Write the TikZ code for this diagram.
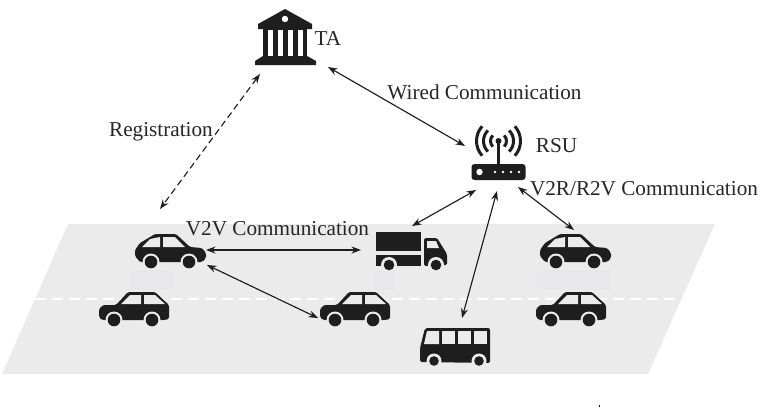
\documentclass[tikz,border=0pt]{standalone}
\usepackage{fontspec}
\setmainfont{Liberation Serif}
\usetikzlibrary{arrows.meta}
\definecolor{ink}{HTML}{1E1E1E}
\definecolor{roadgrey}{HTML}{EBEBEB}
\definecolor{patchgrey}{HTML}{E8E8EA}
\tikzset{
  label text/.style={font=\fontsize{21.2}{23}\selectfont, text=black!85, inner sep=0pt, anchor=center},
  icon box/.style={inner sep=0pt, outer sep=0pt, draw=none},
  solid ink/.style={fill=ink, draw=none},
  paper/.style={fill=roadgrey, draw=none},
  link/.style={draw=ink, line width=1.15pt, {Stealth[length=9.5pt,width=7pt]}-{Stealth[length=9.5pt,width=7pt]}},
  dashlink/.style={link, dash pattern=on 6.5pt off 4pt},
  carhoodright/.pic={
    \path[solid ink, rounded corners=1.5pt] (20,0)--(41,0)--(55,13)--(67,14)--(71,19)--(71,24)--(67,28)--(5,28)--(0,22)--(0,16)--(5,9)--cycle;
    \path[paper] (7,13)--(15,5)--(25,3)--(25,13)--cycle;
    \path[paper] (28,3)--(40,3)--(50,13)--(28,13)--cycle;
    \path[paper] (16,28) circle (8.5) (54,28) circle (8.5);
    \path[solid ink] (16,28) circle (6.3) (54,28) circle (6.3);
  },
  carhoodleft/.pic={
    \path[solid ink, rounded corners=1.5pt] (29,0)--(56,0)--(70,13)--(70,27)--(65,28)--(3,28)--(0,25)--(0,17)--(4,13)--(17,13)--cycle;
    \path[paper] (22,12)--(31,3)--(42,3)--(42,12)--cycle;
    \path[paper] (45,3)--(56,3)--(66,12)--(45,12)--cycle;
    \path[paper] (15,28) circle (8.5) (53,28) circle (8.5);
    \path[solid ink] (15,28) circle (6.3) (53,28) circle (6.3);
  },
  lorry/.pic={
    \path[solid ink] (0,0) rectangle (45,19);
    \path[solid ink] (0,23) rectangle (45,34);
    \path[solid ink, rounded corners=1.5pt] (48,6)--(61,6)--(71,22)--(71,33)--(48,34)--cycle;
    \path[paper] (51,9)--(60,9)--(63,16)--(51,16)--cycle;
    \path[paper] (13,33) circle (8) (60,33) circle (8);
    \path[solid ink] (13,33) circle (5.3) (60,33) circle (5.3);
  },
  coach/.pic={
    \path[solid ink, rounded corners=2pt] (5,0)--(70,0)--(70,35)--(0,34)--(0,20)--cycle;
    \path[paper] (4,16)--(7,3)--(19,3)--(19,16)--cycle;
    \path[paper] (22,3) rectangle (35,16);
    \path[paper] (38,3) rectangle (51,16);
    \path[paper] (54,3) rectangle (67,16);
    \path[paper] (14,33) circle (7.5) (59,33) circle (7.5);
    \path[solid ink] (14,33) circle (4.8) (59,33) circle (4.8);
  },
  temple/.pic={
    \path[solid ink] (0,-28)--(27,-13)--(27,-8)--(-27,-8)--(-27,-13)--cycle;
    \path[fill=white] (0,-18) circle (3.2);
    \path[solid ink] (-22,-8) rectangle (22,19);
    \foreach \cx in {-17,-7,3,12.5}{\path[fill=white] (\cx,-7) rectangle ++(5,25.5);}
    \path[solid ink] (-22,19)--(22,19)--(31,24)--(31,28)--(-30,28)--(-30,24)--cycle;
  },
  router/.pic={
    \path[solid ink] (-27,23) [rounded corners=3pt] rectangle (27,39);
    \path[fill=white] (-19,31) circle (3.2);
    \foreach \cx in {-3.5,4.5,12.5,20.5}{\path[fill=white] (\cx,31) circle (1.4);}
    \draw[ink, line width=3pt] (0,0)--(0,23);
    \path[solid ink] (0,0) circle (3);
    \foreach \rr/\aa in {8/45,15/45,22/42}{
      \draw[ink, line width=3pt] (-\aa:\rr) arc[start angle=-\aa, end angle=\aa, radius=\rr];
      \draw[ink, line width=3pt] (180-\aa:\rr) arc[start angle=180-\aa, end angle=180+\aa, radius=\rr];
    }
  }
}
\begin{document}
\begin{tikzpicture}[x=1pt,y=-1pt]
\useasboundingbox (0,0) rectangle (762,407);
\path[fill=white] (0,0) rectangle (762,407);
% road
\path[fill=roadgrey] (68,224)--(715,224)--(648,374)--(2,374)--cycle;
\path[fill=patchgrey] (131,270) rectangle (173,290);
\path[fill=patchgrey] (537,270) rectangle (610,290);
\path[fill=patchgrey] (373,270) rectangle (394,290);
\draw[white, line width=1.6pt, dash pattern=on 11pt off 6pt] (35,299)--(678,299);
\path[fill=black] (598.6,405) rectangle (599.6,406.5);
% icons
\node[icon box, minimum width=62pt, minimum height=57pt] (ta) at (286,37) {};
\pic at (285,37) {temple};
\node[icon box, minimum width=54pt, minimum height=62pt] (rsu) at (498,150) {};
\pic at (498.5,141) {router};
\node[icon box, minimum width=71pt, minimum height=35pt] (carone) at (170.5,251.5) {};
\pic at (135,234) {carhoodright};
\node[icon box, minimum width=71pt, minimum height=35pt] (cartwo) at (134.5,309.5) {};
\pic at (99,292) {carhoodleft};
\node[icon box, minimum width=71pt, minimum height=35pt] (carthree) at (355,309.5) {};
\pic at (320,292) {carhoodleft};
\node[icon box, minimum width=71pt, minimum height=35pt] (carfour) at (575.5,251.5) {};
\pic at (540,234) {carhoodright};
\node[icon box, minimum width=71pt, minimum height=35pt] (carfive) at (571.5,309.5) {};
\pic at (536,292) {carhoodleft};
\node[icon box, minimum width=71pt, minimum height=39pt] (truck) at (411.5,251.5) {};
\pic at (376,232) {lorry};
\node[icon box, minimum width=70pt, minimum height=36pt] (bus) at (455,346) {};
\pic at (420,328) {coach};
% labels
\node[label text] (talabel) at (328,39) {TA};
\node[label text] (rsulabel) at (556.5,146) {RSU};
\node[label text] (reglabel) at (161,132) {Registration};
\node[label text] (wiredlabel) at (484.5,92) {Wired Communication};
\node[label text] (vtworlabel) at (644,189) {V2R/R2V Communication};
\node[label text] (vtwovlabel) at (277.5,229) {V2V Communication};
% connector ends
\coordinate (taS) at (260,74);
\coordinate (caroneN) at (160,209);
\coordinate (taE) at (328,67);
\coordinate (rsuW) at (465,146);
\coordinate (rsuSW) at (476,190);
\coordinate (truckNE) at (412,226);
\coordinate (rsuS) at (497,191);
\coordinate (busN) at (462,318);
\coordinate (rsuSE) at (518,187);
\coordinate (carfourN) at (574,230);
\coordinate (caroneE) at (206,250);
\coordinate (truckW) at (361,250);
\coordinate (caroneSE) at (207,265);
\coordinate (carthreeNW) at (318,318);
% connectors
\draw[dashlink] (taS)--(caroneN);
\draw[link] (taE)--(rsuW);
\draw[link] (rsuSW)--(truckNE);
\draw[link] (rsuS)--(busN);
\draw[link] (rsuSE)--(carfourN);
\draw[link] (caroneE)--(truckW);
\draw[link] (caroneSE)--(carthreeNW);
\end{tikzpicture}
\end{document}
